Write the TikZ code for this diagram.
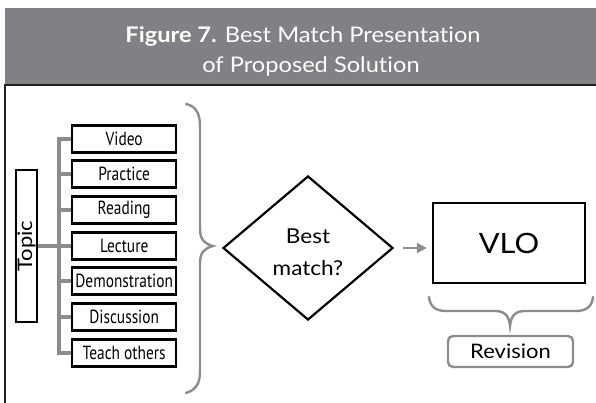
\documentclass[tikz,border=0pt]{standalone}
\usepackage{fontspec}
\usetikzlibrary{shapes.geometric,arrows.meta}
\setmainfont{Lato}[FakeStretch=1.1, Ligatures=NoCommon]
\newfontfamily\condfont{PT Sans}[FakeStretch=0.81]
\definecolor{band}{HTML}{818185}
\definecolor{treegray}{HTML}{8C8C8C}
\definecolor{dark}{HTML}{231F20}
\tikzset{
  item/.style={draw=black, line width=2.4pt, minimum width=104pt, minimum height=27pt,
    inner sep=0pt, font=\condfont\fontsize{19}{19}\selectfont, anchor=west},
  tree/.style={draw=treegray, line width=3.5pt},
  gbrace/.style={draw=treegray, line width=2.4pt, line cap=round},
}
\begin{document}
\begin{tikzpicture}[x=1pt,y=-1pt]
\useasboundingbox (0,0) rectangle (596,403);
\fill[white] (0,0) rectangle (596,403);
% header band
\fill[band] (5,8) rectangle (596,84);
\node[text=white, font=\fontsize{21.5}{21.5}\selectfont, anchor=base] (title1) at (303,43) {\textbf{Figure 7.} Best Match Presentation};
\node[text=white, font=\fontsize{21.5}{21.5}\selectfont, anchor=base] (title2) at (311,73) {of Proposed Solution};
% panel border
\draw[dark, line width=2.6pt] (5,404) -- (5,85) -- (597,85);
% topic
\node[draw=black, line width=2.4pt, minimum width=21pt, minimum height=152pt, inner sep=0pt] (topic) at (26.5,246) {};
\node[rotate=90, font=\fontsize{20}{20}\selectfont] (topictext) at (topic.center) {Topic};
% items
\node[item] (video) at (71,139) {Video};
\node[item] (practice) at (71,174) {Practice};
\node[item] (reading) at (71,210) {Reading};
\node[item] (lecture) at (71,246) {Lecture};
\node[item] (demo) at (71,281) {Demonstration};
\node[item] (discussion) at (71,317) {Discussion};
\node[item] (teach) at (71,353) {Teach others};
% tree
\draw[tree] (video.west) -- ++(-12,0) |- (teach.west);
\foreach \n in {practice,reading,demo,discussion}{
  \draw[tree] (\n.west) -- ++(-12,0);
}
\draw[tree] (topic.east) -- (lecture.west);
% big brace
\draw[gbrace] (186,104) .. controls (196,106) and (200,114) .. (200,126) -- (200,229)
  .. controls (200,240) and (205,244) .. (213,246)
  .. controls (205,248) and (200,252) .. (200,263) -- (200,372)
  .. controls (200,383) and (196,390) .. (186,393);
% diamond
\node[diamond, draw=black, line width=2.2pt, minimum width=170pt, minimum height=144pt,
  inner sep=0pt] (dec) at (308,248) {};
\node[align=center, font=\fontsize{20.5}{32}\selectfont, yshift=-4pt] (dectext) at (dec.center) {Best\\match?};
% VLO
\node[draw=black, line width=2.4pt, minimum width=152pt, minimum height=80pt, inner sep=0pt,
  font=\fontsize{28}{28}\selectfont] (vlo) at (509,243) {VLO};
\draw[draw=treegray, line width=2.2pt, -{Triangle[length=10pt,width=10pt]}, shorten <=9pt, shorten >=5pt]
  (dec.east) -- (dec.east -| vlo.west);
% small brace
\draw[gbrace] (429,297) .. controls (430,306) and (435,311) .. (446,311) -- (495,311)
  .. controls (504,311) and (509,315) .. (510,326)
  .. controls (511,315) and (516,311) .. (525,311) -- (576,311)
  .. controls (587,311) and (592,306) .. (593,297);
% revision
\node[draw=treegray, line width=2.4pt, rounded corners=5pt, minimum width=125pt, minimum height=31pt,
  inner sep=0pt, font=\fontsize{20}{20}\selectfont] (rev) at (510.5,351.5) {Revision};
\end{tikzpicture}
\end{document}
